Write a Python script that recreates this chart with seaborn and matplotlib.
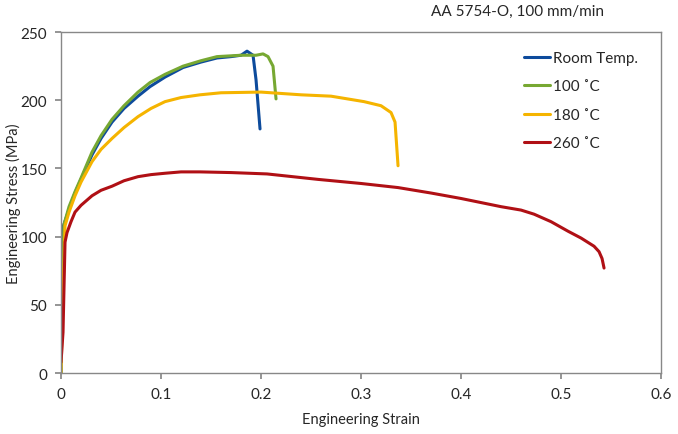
import matplotlib
matplotlib.use("Agg")
import matplotlib.pyplot as plt
import seaborn as sns
import pandas as pd

sns.set_theme(style="white")
plt.rcParams['font.family'] = ['Lato', 'DejaVu Sans']

# Curves (strain, stress in MPa)
rt_strain = [0, 0.001, 0.002, 0.008, 0.014, 0.02, 0.031, 0.04, 0.051, 0.063, 0.077, 0.089, 0.104, 0.122, 0.14, 0.156, 0.17, 0.18, 0.186, 0.192, 0.195, 0.199]
rt_stress = [0, 60, 107, 120, 132, 142, 160, 172, 184, 194, 203, 210, 217, 224, 228, 231, 232, 233, 236, 233, 215, 179]

t100_strain = [0, 0.001, 0.003, 0.008, 0.014, 0.02, 0.031, 0.04, 0.051, 0.063, 0.077, 0.089, 0.104, 0.122, 0.14, 0.156, 0.18, 0.195, 0.202, 0.207, 0.212, 0.215]
t100_stress = [0, 60, 109, 122, 133, 143, 162, 174, 186, 196, 206, 213, 219, 225, 229, 232, 233, 233, 234, 232, 225, 201]

t180_strain = [0, 0.002, 0.004, 0.008, 0.014, 0.02, 0.031, 0.04, 0.051, 0.063, 0.077, 0.09, 0.104, 0.12, 0.139, 0.16, 0.2, 0.24, 0.27, 0.303, 0.32, 0.33, 0.334, 0.337]
t180_stress = [0, 60, 108, 118, 130, 140, 155, 164, 172, 180, 188, 194, 199, 202, 204, 205.5, 206, 204, 203, 199, 196, 191, 184, 152]

t260_strain = [0, 0.002, 0.004, 0.006, 0.01, 0.014, 0.02, 0.031, 0.04, 0.051, 0.063, 0.077, 0.09, 0.104, 0.12, 0.139, 0.17, 0.206, 0.257, 0.3, 0.337, 0.37, 0.4, 0.44, 0.46, 0.473, 0.49, 0.507, 0.52, 0.533, 0.538, 0.541, 0.543]
t260_stress = [8, 30, 96, 103, 111, 118, 123, 130, 134, 137, 141, 144, 145.5, 146.5, 147.5, 147.5, 147, 146, 142, 139, 136, 132, 128, 122, 119.5, 116.5, 111, 104, 99, 93, 89, 84, 77]

labels = ['Room Temp.', '100 ˚C', '180 ˚C', '260 ˚C']
colors = ['#0d4b9c', '#77a832', '#f5b400', '#b01015']

frames = []
for lab, xs, ys in zip(labels,
                       [rt_strain, t100_strain, t180_strain, t260_strain],
                       [rt_stress, t100_stress, t180_stress, t260_stress]):
    frames.append(pd.DataFrame({'strain': xs, 'stress': ys, 'test': lab}))
df = pd.concat(frames, ignore_index=True)

fig = plt.figure(figsize=(6.78, 4.35), dpi=100)
ax = fig.add_axes([0.090, 0.140, 0.885, 0.784])

sns.lineplot(data=df, x='strain', y='stress', hue='test', hue_order=labels,
             palette=colors, sort=False, estimator=None, linewidth=2.2, ax=ax)

ax.set_xlim(0, 0.6)
ax.set_ylim(0, 250)
ax.set_xticks([0, 0.1, 0.2, 0.3, 0.4, 0.5, 0.6])
ax.set_xticklabels(['0', '0.1', '0.2', '0.3', '0.4', '0.5', '0.6'])
ax.set_yticks([0, 50, 100, 150, 200, 250])
ax.tick_params(axis='both', labelsize=11, length=4, color='#888888', direction='out', left=True, bottom=True, pad=6)
for s in ax.spines.values():
    s.set_color('#888888')
    s.set_linewidth(1)

ax.set_xlabel('Engineering Strain', fontsize=10.5, labelpad=8)
ax.set_ylabel('Engineering Stress (MPa)', fontsize=10.5)
ax.yaxis.set_label_coords(-0.067, 0.5)

fig.text(0.763, 0.972, 'AA 5754-O, 100 mm/min', fontsize=11, ha='center', va='center')

ax.legend(loc='upper right', bbox_to_anchor=(0.985, 0.985), frameon=False, fontsize=11,
          handlelength=1.7, handletextpad=0.2, labelspacing=0.95)

fig.savefig('out.png', dpi=100)
